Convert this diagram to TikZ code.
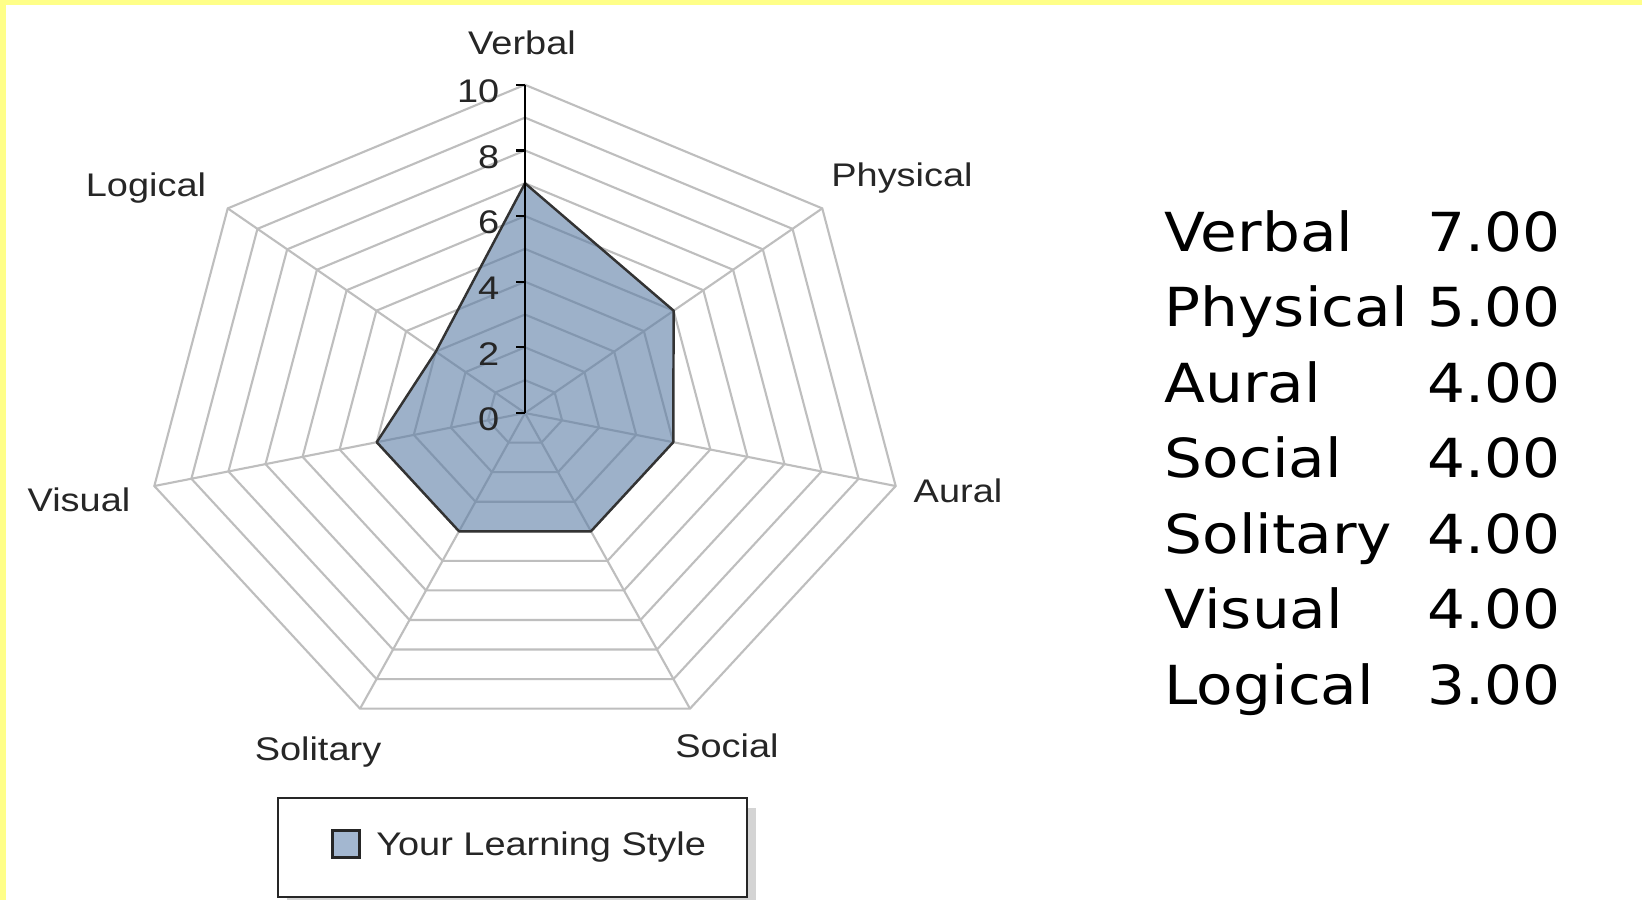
\documentclass[tikz,border=0pt]{standalone}
\usepackage{fontspec}
\usepackage{tikz}
\newfontfamily\chartfont[FakeStretch=1.16]{Liberation Sans}
\newfontfamily\tablefont[FakeStretch=1.11]{DejaVu Sans}
\definecolor{framey}{RGB}{255,255,136}
\definecolor{ringgray}{RGB}{190,190,190}
\definecolor{stylefill}{RGB}{92,125,165}
\definecolor{swatchfill}{RGB}{163,183,208}
\definecolor{shadowgray}{RGB}{212,212,212}
\usetikzlibrary{positioning}

\begin{document}
\begin{tikzpicture}[
    x=0.01cm, y=-0.01cm,
    ringline/.style={draw=ringgray, line width=0.6pt},
    axislabel/.style={font=\chartfont\fontsize{9.3}{11}\selectfont, text=black!85, inner sep=0pt, text height=6.7pt, text depth=0pt},
    ticklabel/.style={axislabel, anchor=east},
    tabtext/.style={font=\tablefont\fontsize{15.3}{18}\selectfont, inner sep=0pt}
]
    % Page and frame
    \useasboundingbox (0,0) rectangle (1642,900);
    \fill[white] (0,0) rectangle (1642,900);
    \fill[framey] (0,0) rectangle (1642,5);
    \fill[framey] (0,0) rectangle (6,900);

    % Radar chart
    \begin{scope}[shift={(525,413)}, x=0.38cm, y=0.328cm]
        \coordinate (origin) at (0,0);
        \foreach \r in {1,...,10}
            \draw[ringline] (90:\r) \foreach \k in {1,...,6} { -- ({90-\k*360/7}:\r) } -- cycle;
        \foreach \k in {0,...,6}
            \draw[ringline] (origin) -- ({90-\k*360/7}:10);

        % Your learning style
        \filldraw[fill=stylefill, fill opacity=0.6, draw=black!80, line width=0.7pt, line join=round]
            (90:7) -- ({90-360/7}:5) -- ({90-2*360/7}:4) -- ({90-3*360/7}:4)
            -- ({90-4*360/7}:4) -- ({90-5*360/7}:4) -- ({90-6*360/7}:3) -- cycle;

        % Value axis
        \draw[black, line width=0.6pt] (origin) -- (0,10);
        \foreach \t in {0,2,...,10} {
            \draw[black, line width=0.6pt] (0,\t) -- (-0.24,\t);
            \node[ticklabel] (tick\t) at (-0.66,\t-0.18) {\t};
        }
    \end{scope}

    % Axis labels
    \node[axislabel] (verbal) at (522,43) {Verbal};
    \node[axislabel] (physical) at (902,175) {Physical};
    \node[axislabel] (aural) at (958,491) {Aural};
    \node[axislabel] (social) at (727,746) {Social};
    \node[axislabel] (solitary) at (318,749) {Solitary};
    \node[axislabel] (visual) at (79,500) {Visual};
    \node[axislabel] (logical) at (146,185) {Logical};

    % Legend
    \fill[shadowgray] (287,808) rectangle (756,900);
    \draw[fill=white, draw=black!85, line width=0.6pt] (278,798) rectangle (747,897);
    \node[draw=black!85, fill=swatchfill, line width=0.6pt, minimum size=0.27cm, inner sep=0pt] (swatch) at (346,844) {};
    \node[axislabel, anchor=west, right=0.15cm of swatch] (legendtext) {Your Learning Style};

    % Scores
    \foreach \name/\val [count=\i from 0] in {Verbal/7.00, Physical/5.00, Aural/4.00, Social/4.00, Solitary/4.00, Visual/4.00, Logical/3.00} {
        \node[tabtext, anchor=base west] (name\i) at (1164,{251+75.5*\i}) {\name};
        \node[tabtext, anchor=base east] (score\i) at (1561,{251+75.5*\i}) {\val};
    }
\end{tikzpicture}
\end{document}
